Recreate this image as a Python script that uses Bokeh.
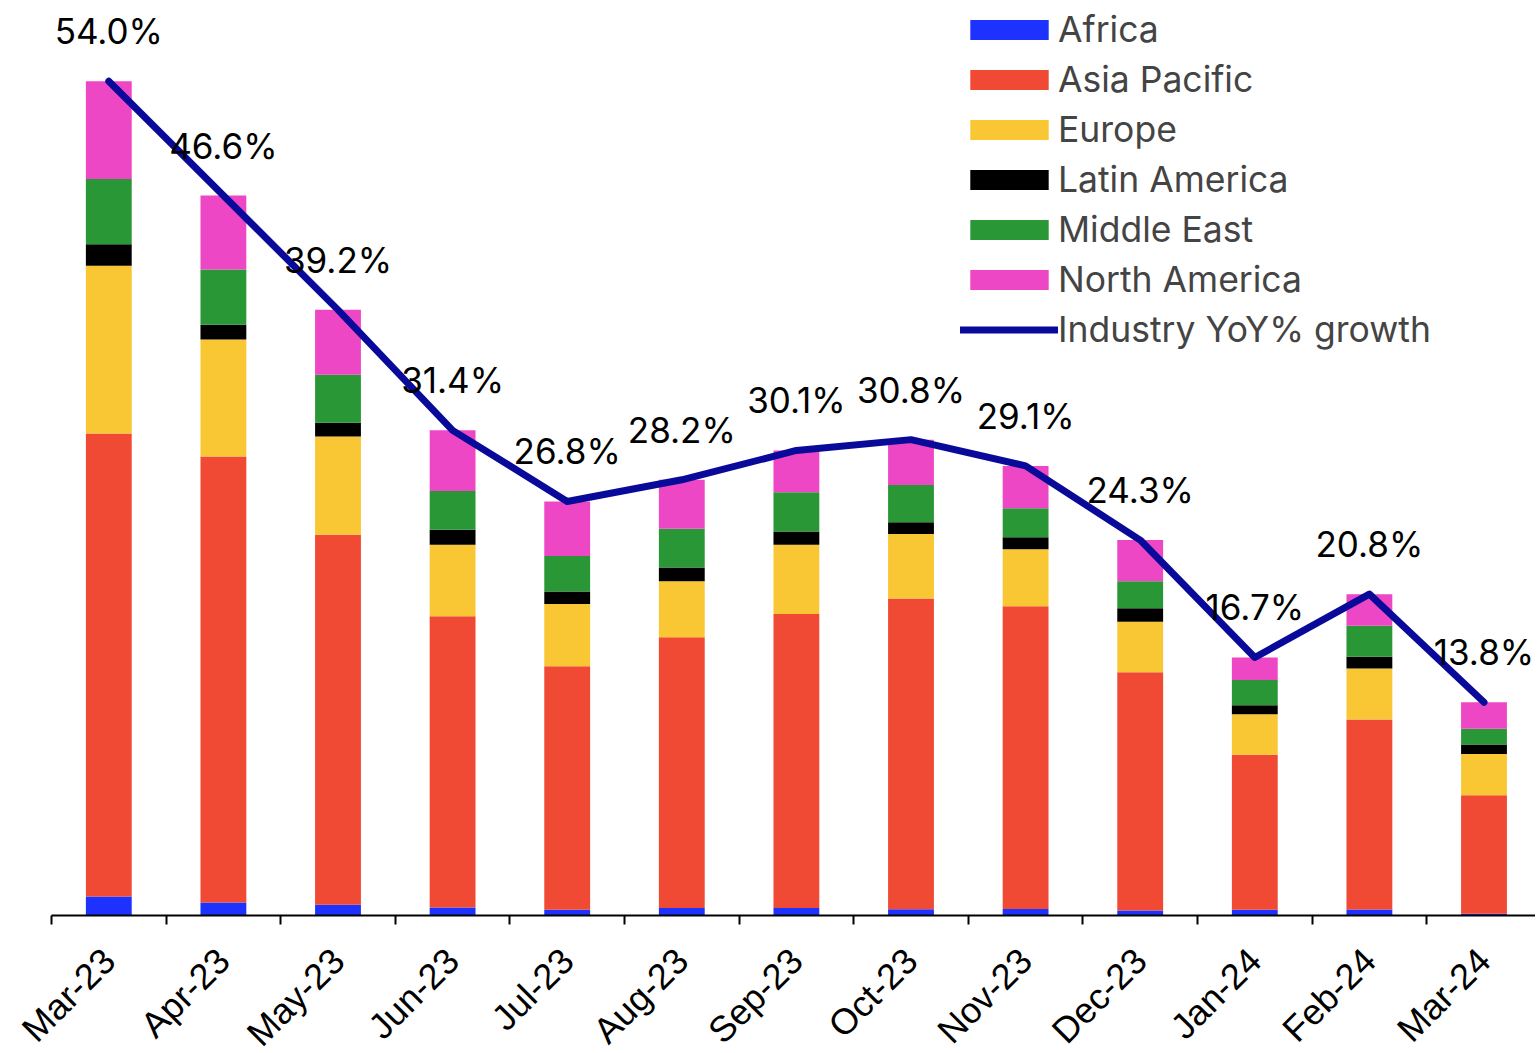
import math
from bokeh.plotting import figure
from bokeh.models import (ColumnDataSource, FixedTicker, LabelSet, Legend,
                          LegendItem, Range1d)
from bokeh.core.properties import value
from bokeh.embed import file_html
from bokeh.resources import INLINE

months = ["Mar-23", "Apr-23", "May-23", "Jun-23", "Jul-23", "Aug-23", "Sep-23",
          "Oct-23", "Nov-23", "Dec-23", "Jan-24", "Feb-24", "Mar-24"]
africa = [1.23, 0.84, 0.69, 0.51, 0.38, 0.49, 0.49, 0.40, 0.42, 0.33, 0.37, 0.39, 0.11]
asia_pacific = [29.97, 28.87, 23.95, 18.86, 15.75, 17.52, 19.02, 20.12, 19.59, 15.41, 10.04, 12.30, 7.68]
europe = [10.85, 7.57, 6.36, 4.62, 4.03, 3.63, 4.49, 4.18, 3.69, 3.27, 2.61, 3.30, 2.67]
latin_america = [1.39, 0.95, 0.89, 0.98, 0.81, 0.89, 0.85, 0.76, 0.78, 0.87, 0.59, 0.76, 0.61]
middle_east = [4.23, 3.58, 3.11, 2.50, 2.30, 2.50, 2.55, 2.41, 1.88, 1.76, 1.63, 2.00, 1.02]
north_america = [6.33, 4.79, 4.20, 3.93, 3.53, 3.17, 2.70, 2.93, 2.74, 2.66, 1.46, 2.05, 1.71]
growth = [54.0, 46.6, 39.2, 31.4, 26.8, 28.2, 30.1, 30.8, 29.1, 24.3, 16.7, 20.8, 13.8]

series_names = ["Africa", "Asia Pacific", "Europe", "Latin America", "Middle East", "North America"]
series_keys = ["africa", "asia_pacific", "europe", "latin_america", "middle_east", "north_america"]
colors = ["#1E32FF", "#F04934", "#F9C733", "#000000", "#2A9736", "#EE47C5"]
line_color = "#0A0A9A"
FONT = "Inter"
AXIS_FONT = "Liberation Sans"

xs = list(range(len(months)))
source = ColumnDataSource(dict(
    x=xs, africa=africa, asia_pacific=asia_pacific, europe=europe,
    latin_america=latin_america, middle_east=middle_east, north_america=north_america,
    growth=growth, label=[f"{g:.1f}%" for g in growth],
))

FW = 1484
p = figure(frame_width=FW, frame_height=907, output_backend="svg",
           toolbar_location=None, min_border_left=51, min_border_right=0,
           min_border_top=8, min_border_bottom=0,
           x_range=Range1d(-0.5, -0.5 + FW / 114.6),
           y_range=Range1d(0, 907 / 15.45))

bars = p.vbar_stack(series_keys, x="x", width=0.4, source=source, color=colors,
                    line_width=0)
ln = p.line("x", "growth", source=source, line_width=7, line_color=line_color,
            line_cap="round", line_join="round")

labels = LabelSet(x="x", y="growth", text="label", source=source, y_offset=50,
                  text_align="center", text_baseline="middle",
                  text_font_size=value("35px"), text_font=value(FONT),
                  text_color=value("#000000"))
p.add_layout(labels)

p.yaxis.visible = False
p.xgrid.visible = False
p.ygrid.visible = False
p.outline_line_color = None

ax = p.xaxis[0]
ax.ticker = FixedTicker(ticks=xs, minor_ticks=[i - 0.5 for i in xs])
ax.major_label_overrides = {i: m for i, m in enumerate(months)}
ax.major_label_orientation = math.pi / 4
ax.major_label_text_font = AXIS_FONT
ax.major_label_text_font_size = "36px"
ax.major_label_text_color = "#000000"
ax.major_label_standoff = 30
ax.major_tick_out = 0
ax.major_tick_in = 0
ax.minor_tick_out = 9
ax.minor_tick_in = 0
ax.minor_tick_line_width = 2
ax.minor_tick_line_color = "#000000"
ax.axis_line_width = 2
ax.axis_line_color = "#000000"

items = [LegendItem(label=n, renderers=[r]) for n, r in zip(series_names, bars)]
items.append(LegendItem(label="Industry YoY% growth", renderers=[ln]))
legend = Legend(items=items, location=(909, 564), glyph_width=98, glyph_height=25,
                label_text_font_size="35.5px", label_text_font=FONT,
                label_standoff=0, spacing=7, padding=0, margin=0,
                border_line_color=None, background_fill_alpha=0)
p.add_layout(legend)

open("out.html", "w").write(file_html(p, INLINE))
